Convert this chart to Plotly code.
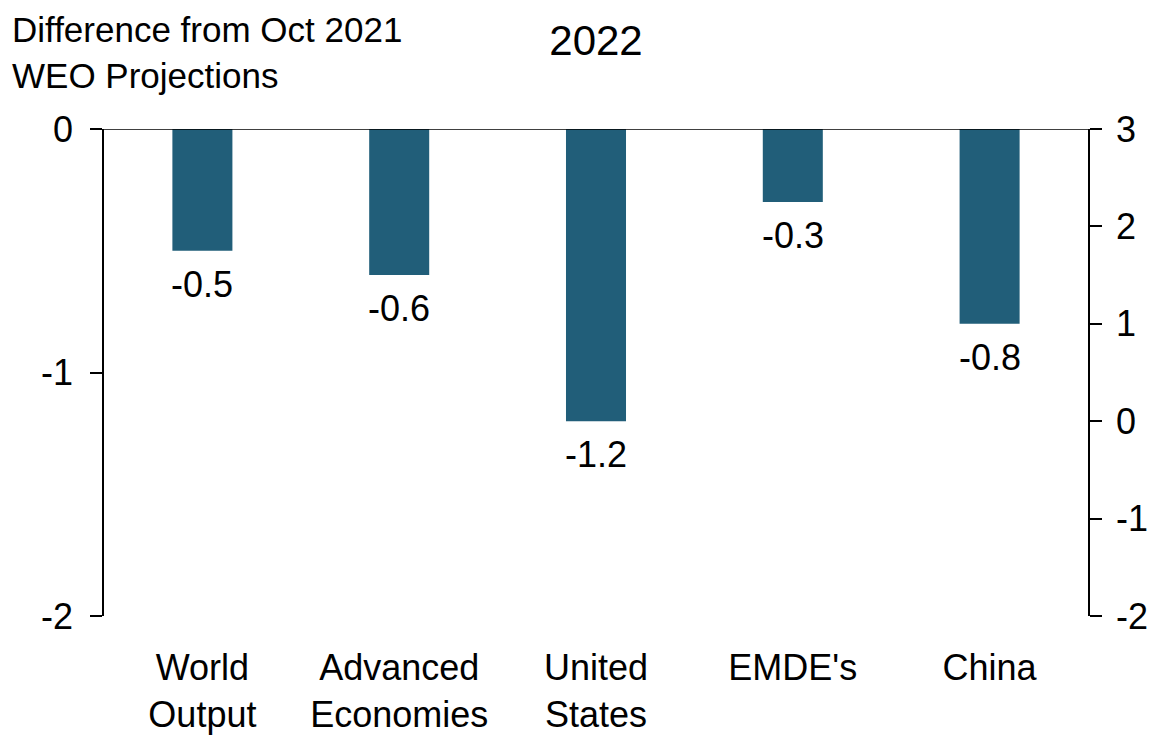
import plotly.graph_objects as go

categories = ["World<br>Output", "Advanced<br>Economies", "United<br>States", "EMDE's", "China"]
values = [-0.5, -0.6, -1.2, -0.3, -0.8]
labels = ["-0.5", "-0.6", "-1.2", "-0.3", "-0.8"]
left_ticks = [0, -1, -2]
left_text = ["0", "-1", "-2"]
right_ticks = [3, 2, 1, 0, -1, -2]
right_text = ["3", "2", "1", "0", "-1", "-2"]

FONT = "Liberation Sans Narrow, Arial Narrow, Liberation Sans, Arial, sans-serif"
BAR = "#215E79"

# page body has an 8px margin, so the figure is sized/offset to compensate
W, H = 1147, 731
L, R, T, B = 96, 67, 121, 123
PW, PH = W - L - R, H - T - B

fig = go.Figure()
fig.add_trace(go.Bar(x=list(range(len(categories))), y=values, marker=dict(color=BAR, line=dict(width=0)),
                     width=0.305, hoverinfo="skip", showlegend=False))
fig.add_trace(go.Scatter(x=[0], y=[0], yaxis="y2", mode="markers", marker=dict(opacity=0),
                         showlegend=False, hoverinfo="skip"))

annotations = []
for i, (v, t) in enumerate(zip(values, labels)):
    annotations.append(dict(x=i, y=v, text=t, showarrow=False, yanchor="top", yshift=-11,
                            font=dict(family=FONT, size=36, color="black")))
annotations.append(dict(text="Difference from Oct 2021<br>WEO Projections", xref="paper", yref="paper",
                        x=(2 - L) / PW, xanchor="left", y=1 + T / PH, yanchor="top", align="left",
                        showarrow=False, font=dict(family=FONT, size=35)))

fig.add_shape(type="line", xref="paper", yref="y", x0=-12 / PW, x1=1, y0=0, y1=0,
              line=dict(color="black", width=1.5))

fig.update_layout(
    width=W, height=H,
    margin=dict(l=L, r=R, t=T, b=B, autoexpand=False),
    paper_bgcolor="white", plot_bgcolor="white",
    font=dict(family=FONT, size=36, color="black"),
    title=dict(text="2022", x=588 / W, xanchor="center", y=1 - 32 / H, yanchor="middle",
               font=dict(family=FONT, size=42), automargin=False),
    xaxis=dict(range=[-0.5, 4.5], tickvals=list(range(len(categories))), ticktext=categories,
               showline=False, ticks="", showgrid=False, zeroline=False, ticklabelstandoff=27,
               tickfont=dict(size=36), automargin=False),
    yaxis=dict(range=[-2, 0], tickvals=left_ticks, ticktext=left_text, showline=True, linecolor="black",
               linewidth=1.5, ticks="outside", ticklen=12, tickwidth=1.5, tickcolor="black",
               showgrid=False, zeroline=False, ticklabelstandoff=10, tickfont=dict(size=36),
               automargin=False),
    yaxis2=dict(range=[-2, 3], tickvals=right_ticks, ticktext=right_text, overlaying="y", side="right",
                showline=True, linecolor="black", linewidth=1.5, ticks="outside", ticklen=12,
                tickwidth=1.5, tickcolor="black", showgrid=False, zeroline=False, ticklabelstandoff=7,
                tickfont=dict(size=36), automargin=False),
    annotations=annotations,
)

fig.write_html("out.html")
